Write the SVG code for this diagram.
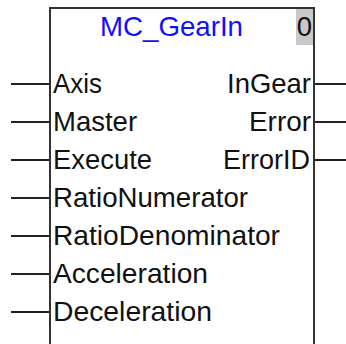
<svg xmlns="http://www.w3.org/2000/svg" width="346" height="344" viewBox="0 0 346 344">
<style>
.pin{stroke:#222;stroke-width:2;fill:none}
.lbl{font-family:"Liberation Sans",Arial,sans-serif;font-size:27.5px;fill:#111}
.title{font-family:"Liberation Sans",Arial,sans-serif;font-size:27.5px;fill:#1010ff}
.r{text-anchor:end}
</style>
<rect width="346" height="344" fill="#fff"/>
<g id="block">
<rect x="296" y="9" width="17" height="36" fill="#c8c8c8"/>
<path d="M50,344 V8 H314 V344" fill="none" stroke="#333" stroke-width="2"/>
<text class="title" x="100" y="36" textLength="143" lengthAdjust="spacingAndGlyphs">MC_GearIn</text>
<text class="lbl r" x="312" y="36">0</text>
<text class="lbl" x="53" y="93" textLength="49" lengthAdjust="spacingAndGlyphs">Axis</text>
<text class="lbl" x="53" y="131">Master</text>
<text class="lbl" x="53" y="169" textLength="99" lengthAdjust="spacingAndGlyphs">Execute</text>
<text class="lbl" x="53" y="207" textLength="195" lengthAdjust="spacingAndGlyphs">RatioNumerator</text>
<text class="lbl" x="53" y="245" textLength="227" lengthAdjust="spacingAndGlyphs">RatioDenominator</text>
<text class="lbl" x="53" y="283" textLength="155" lengthAdjust="spacingAndGlyphs">Acceleration</text>
<text class="lbl" x="53" y="321" textLength="159" lengthAdjust="spacingAndGlyphs">Deceleration</text>
<text class="lbl" x="227" y="93" textLength="84" lengthAdjust="spacingAndGlyphs">InGear</text>
<text class="lbl" x="249" y="131" textLength="62" lengthAdjust="spacingAndGlyphs">Error</text>
<text class="lbl" x="223" y="169" textLength="87" lengthAdjust="spacingAndGlyphs">ErrorID</text>
</g>
<g id="connectors">
<path class="pin" d="M11,84 H49 M11,122 H49 M11,160 H49 M11,198 H49 M11,236 H49 M11,274 H49 M11,312 H49"/>
<path class="pin" d="M315,84 H346 M315,122 H346 M315,160 H346"/>
</g>
</svg>
